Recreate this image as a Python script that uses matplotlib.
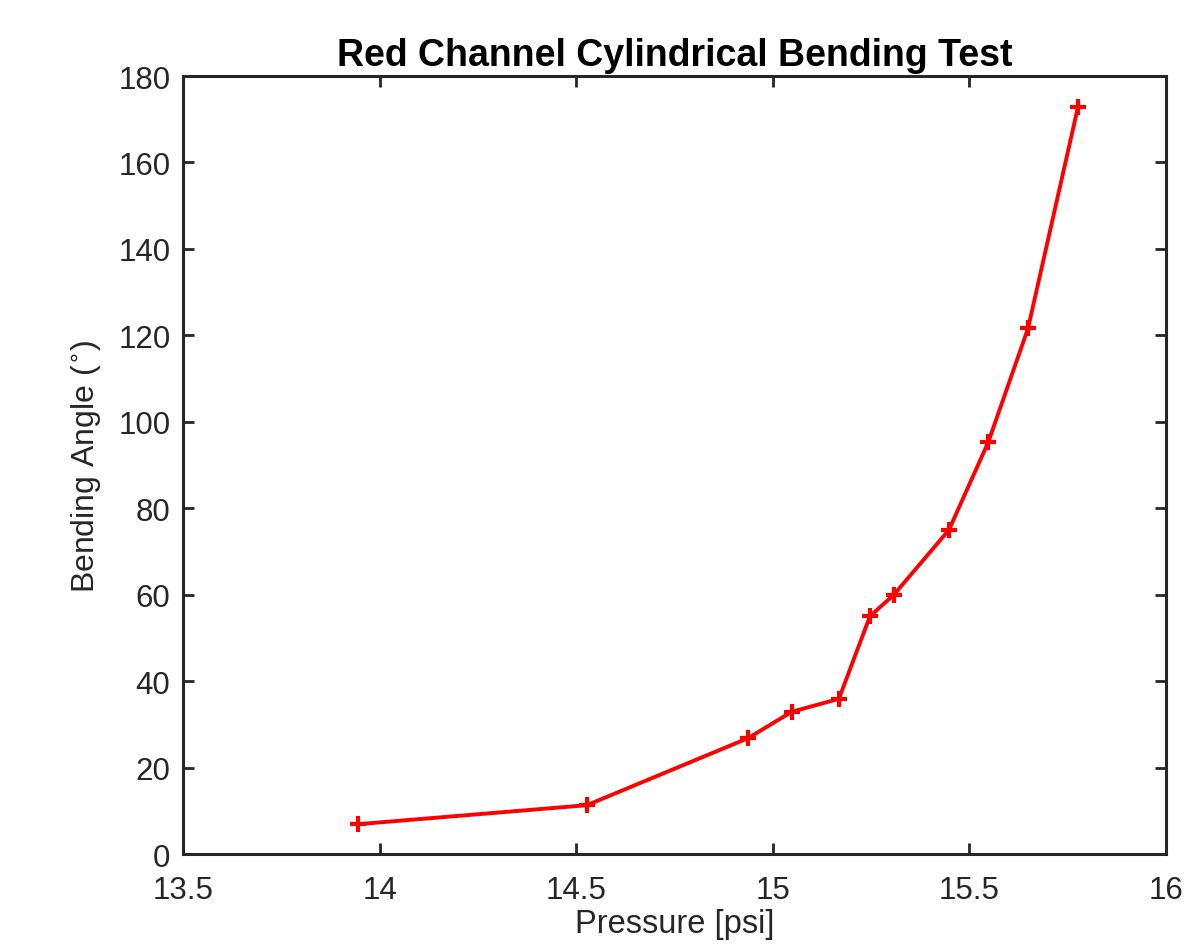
import matplotlib
matplotlib.use("Agg")
import matplotlib.pyplot as plt

# pressure [psi] and bending angle [deg]
pressure = [13.945, 14.527, 14.937, 15.048, 15.168, 15.247, 15.308, 15.448, 15.548, 15.649, 15.776]
angle = [6.9, 11.3, 26.8, 32.9, 35.9, 55.0, 60.0, 75.0, 95.3, 121.6, 172.8]

x_ticks = [13.5, 14, 14.5, 15, 15.5, 16]
x_tick_labels = ["13.5", "14", "14.5", "15", "15.5", "16"]
y_ticks = [0, 20, 40, 60, 80, 100, 120, 140, 160, 180]

plt.rcParams["font.family"] = ["Liberation Sans", "DejaVu Sans"]
axis_color = "#262626"

fig = plt.figure(figsize=(11.99, 9.53), dpi=100)
ax = fig.add_axes([0.1526, 0.1028, 0.8199, 0.8164])

ax.plot(pressure, angle, color="#ff0000", linewidth=2.8, marker="+",
        markersize=12, markeredgewidth=3)

ax.set_xlim(13.5, 16)
ax.set_ylim(0, 180)
ax.set_xticks(x_ticks)
ax.set_xticklabels(x_tick_labels)
ax.set_yticks(y_ticks)

ax.tick_params(direction="in", length=8, width=2, colors=axis_color,
               labelsize=22.5, top=True, right=True)
ax.tick_params(axis="x", pad=15)
ax.tick_params(axis="y", pad=9)
for spine in ax.spines.values():
    spine.set_color(axis_color)
    spine.set_linewidth(2.2)

ax.set_xlabel("Pressure [psi]", fontsize=23.5, color=axis_color, labelpad=2)
ax.set_ylabel("Bending Angle ($^{\\circ}$)", fontsize=23, color=axis_color,
              labelpad=10)
ax.set_title("Red Channel Cylindrical Bending Test", fontsize=27,
             fontweight="bold", color="black", pad=8)

fig.savefig("out.png", dpi=100)
